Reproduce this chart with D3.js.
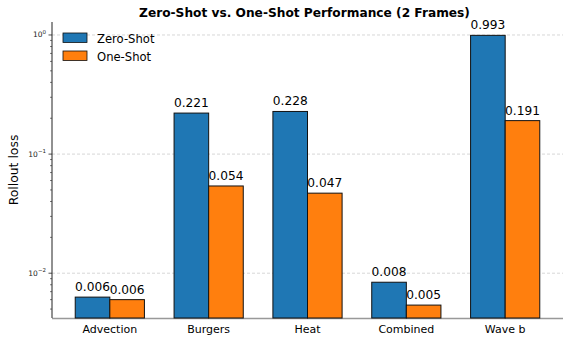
<!DOCTYPE html>
<html>
<head>
<meta charset="utf-8">
<script src="https://cdn.jsdelivr.net/npm/d3@7"></script>
<style>
  body { margin: 0; background: #fff; }
  svg { font-family: "DejaVu Sans", sans-serif; }
</style>
</head>
<body>
<svg width="571" height="343"></svg>
<script>
// data
var categories = ['Advection', 'Burgers', 'Heat', 'Combined', 'Wave b'];
var zeroShot = [0.0063, 0.221, 0.228, 0.0084, 0.993];
var oneShot = [0.0060, 0.054, 0.047, 0.0054, 0.191];
var seriesNames = ['Zero-Shot', 'One-Shot'];
var seriesColors = ['#1f77b4', '#ff7f0e'];
var majorTicks = [0.01, 0.1, 1];
var majorExp = ['\u22122', '\u22121', '0'];

var margin = { top: 22, right: 8, bottom: 25, left: 52 };
var width = 571 - margin.left - margin.right;
var height = 343 - margin.top - margin.bottom;

var svg = d3.select('svg');
var graph = svg.append('g')
    .attr('transform', 'translate(' + margin.left + ',' + margin.top + ')');

var barW = 0.35;
var x = d3.scaleLinear().domain([-0.585, categories.length - 1 + 0.585]).range([0, width]);
var y = d3.scaleLog().domain([Math.pow(10, -2.376), Math.pow(10, 0.109)]).range([height, 0]);
var unit = x(1) - x(0);

// grid
graph.selectAll('.grid')
    .data(majorTicks)
    .enter().append('line')
    .attr('x1', 0).attr('x2', width)
    .attr('y1', function (d) { return y(d); })
    .attr('y2', function (d) { return y(d); })
    .attr('stroke', '#b0b0b0')
    .attr('stroke-width', 0.7)
    .attr('stroke-dasharray', '3,2')
    .attr('opacity', 0.7);

// bottom spine (gray, under the bars)
graph.append('line')
    .attr('x1', 0).attr('x2', width)
    .attr('y1', height + 0.5).attr('y2', height + 0.5)
    .attr('stroke', '#999').attr('stroke-width', 1.5);

var series = [zeroShot, oneShot];
series.forEach(function (vals, s) {
    var off = s === 0 ? -barW / 2 : barW / 2;
    var g = graph.append('g');
    g.selectAll('rect')
        .data(vals)
        .enter().append('rect')
        .attr('x', function (d, i) { return x(i + off - barW / 2); })
        .attr('width', barW * unit)
        .attr('y', function (d) { return y(d); })
        .attr('height', function (d) { return height - y(d); })
        .attr('fill', seriesColors[s])
        .attr('stroke', '#111')
        .attr('stroke-width', 1);
    g.selectAll('text')
        .data(vals)
        .enter().append('text')
        .attr('x', function (d, i) { return x(i + off); })
        .attr('y', function (d) { return y(d) - 6; })
        .attr('text-anchor', 'middle')
        .attr('font-size', 12.2)
        .attr('fill', '#000')
        .text(function (d) { return d3.format('.3f')(d); });
});

// left spine
graph.append('line')
    .attr('x1', 0).attr('x2', 0)
    .attr('y1', 0).attr('y2', height)
    .attr('stroke', '#222').attr('stroke-width', 1);

// y ticks
var minor = [];
[0.001, 0.01, 0.1, 1].forEach(function (dec) {
    for (var k = 2; k <= 9; k++) {
        var v = dec * k;
        if (v >= y.domain()[0] && v <= y.domain()[1]) minor.push(v);
    }
});
graph.selectAll('.minor')
    .data(minor)
    .enter().append('line')
    .attr('x1', -2).attr('x2', 0)
    .attr('y1', function (d) { return y(d); })
    .attr('y2', function (d) { return y(d); })
    .attr('stroke', '#222').attr('stroke-width', 0.6);
graph.selectAll('.major')
    .data(majorTicks)
    .enter().append('line')
    .attr('x1', -3.5).attr('x2', 0)
    .attr('y1', function (d) { return y(d); })
    .attr('y2', function (d) { return y(d); })
    .attr('stroke', '#222').attr('stroke-width', 0.8);
var tl = graph.selectAll('.ylab')
    .data(majorTicks)
    .enter().append('text')
    .attr('x', -6)
    .attr('y', function (d) { return y(d) + 2.5; })
    .attr('text-anchor', 'end')
    .attr('font-size', 7.5)
    .attr('fill', '#222');
tl.append('tspan').text('10');
tl.append('tspan')
    .attr('font-size', 5.5)
    .attr('dy', -3.5)
    .text(function (d, i) { return majorExp[i]; });

// x tick labels
graph.selectAll('.xlab')
    .data(categories)
    .enter().append('text')
    .attr('x', function (d, i) { return x(i); })
    .attr('y', height + 14.5)
    .attr('text-anchor', 'middle')
    .attr('font-size', 11)
    .attr('fill', '#000')
    .text(function (d) { return d; });

// y label
svg.append('text')
    .attr('transform', 'translate(18,' + (margin.top + height / 2) + ') rotate(-90)')
    .attr('text-anchor', 'middle')
    .attr('font-size', 12.4)
    .text('Rollout loss');

// title
svg.append('text')
    .attr('x', margin.left + width / 2 - 3)
    .attr('y', 16.5)
    .attr('text-anchor', 'middle')
    .attr('font-size', 12.2)
    .attr('font-weight', 'bold')
    .text('Zero-Shot vs. One-Shot Performance (2 Frames)');

// legend
var legend = svg.append('g').attr('transform', 'translate(63,33)');
seriesNames.forEach(function (name, i) {
    legend.append('rect')
        .attr('x', 0).attr('y', i * 18)
        .attr('width', 24).attr('height', 9.5)
        .attr('fill', seriesColors[i])
        .attr('stroke', '#111').attr('stroke-width', 0.8);
    legend.append('text')
        .attr('x', 34).attr('y', i * 18 + 9.5)
        .attr('font-size', 11.6)
        .text(name);
});
</script>
</body>
</html>
